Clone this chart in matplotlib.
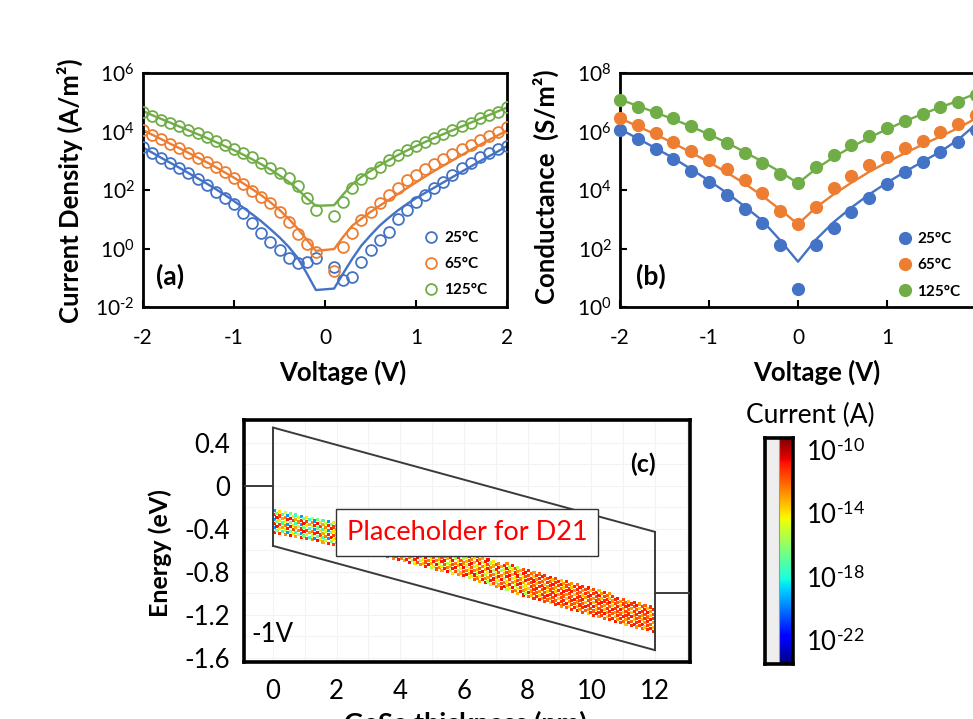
import numpy as np
import matplotlib
matplotlib.use('Agg')
import matplotlib.pyplot as plt
from matplotlib.ticker import NullLocator, FixedLocator, FixedFormatter

plt.rcParams['font.family'] = ['Lato', 'DejaVu Sans']
plt.rcParams['mathtext.fontset'] = 'custom'
plt.rcParams['mathtext.rm'] = 'Lato'
plt.rcParams['mathtext.it'] = 'Lato:italic'
plt.rcParams['mathtext.bf'] = 'Lato:bold'
plt.rcParams['axes.unicode_minus'] = False

# ---------------- data: panel (a) current density (log10 A/m^2) ----------------
V_a = [-2.0, -1.9, -1.8, -1.7, -1.6, -1.5, -1.4, -1.3, -1.2, -1.1,
       -1.0, -0.9, -0.8, -0.7, -0.6, -0.5, -0.4, -0.3, -0.2, -0.1,
       0.1, 0.2, 0.3, 0.4, 0.5, 0.6, 0.7, 0.8, 0.9, 1.0,
       1.1, 1.2, 1.3, 1.4, 1.5, 1.6, 1.7, 1.8, 1.9, 2.0]
logJ_25 = [3.46, 3.28, 3.08, 2.91, 2.74, 2.57, 2.37, 2.17, 1.94, 1.72,
           1.52, 1.20, 0.88, 0.54, 0.23, -0.05, -0.34, -0.49, -0.45, -0.34,
           -0.64, -1.08, -0.99, -0.45, -0.05, 0.29, 0.57, 1.00, 1.32, 1.60,
           1.83, 2.06, 2.28, 2.51, 2.74, 2.93, 3.12, 3.28, 3.39, 3.50]
logJ_65 = [4.05, 3.88, 3.73, 3.58, 3.42, 3.27, 3.11, 2.96, 2.80, 2.61,
           2.40, 2.20, 1.98, 1.76, 1.55, 1.25, 0.90, 0.48, 0.15, -0.12,
           -0.76, 0.06, 0.54, 0.97, 1.26, 1.57, 1.83, 2.06, 2.34, 2.51,
           2.71, 2.89, 3.05, 3.22, 3.39, 3.54, 3.71, 3.85, 3.99, 4.16]
logJ_125 = [4.68, 4.53, 4.39, 4.30, 4.19, 4.05, 3.94, 3.80, 3.69, 3.54,
            3.39, 3.25, 3.12, 2.91, 2.74, 2.57, 2.40, 2.14, 1.72, 1.32,
            1.11, 1.60, 2.06, 2.37, 2.57, 2.80, 3.03, 3.20, 3.37, 3.50,
            3.65, 3.77, 3.91, 4.05, 4.19, 4.30, 4.45, 4.56, 4.68, 4.85]
fitJ_25 = [3.45, 3.28, 3.10, 2.93, 2.76, 2.58, 2.40, 2.22, 2.03, 1.83,
           1.62, 1.40, 1.17, 0.93, 0.66, 0.38, 0.06, -0.32, -0.85, -1.42,
           -1.37, -0.85, -0.35, 0.10, 0.45, 0.78, 1.05, 1.30, 1.52, 1.72,
           1.90, 2.08, 2.26, 2.44, 2.62, 2.80, 2.98, 3.15, 3.32, 3.50]
fitJ_65 = [4.05, 3.89, 3.74, 3.58, 3.43, 3.27, 3.11, 2.95, 2.78, 2.60,
           2.42, 2.23, 2.03, 1.82, 1.58, 1.32, 1.02, 0.68, 0.30, -0.08,
           -0.02, 0.40, 0.78, 1.02, 1.25, 1.46, 1.66, 1.86, 2.06, 2.26,
           2.46, 2.65, 2.83, 3.01, 3.19, 3.37, 3.54, 3.71, 3.87, 4.03]
fitJ_125 = [4.70, 4.56, 4.43, 4.30, 4.17, 4.04, 3.91, 3.78, 3.64, 3.50,
            3.36, 3.21, 3.05, 2.88, 2.70, 2.50, 2.28, 2.02, 1.72, 1.46,
            1.48, 1.85, 2.20, 2.45, 2.65, 2.84, 3.02, 3.19, 3.35, 3.50,
            3.64, 3.78, 3.91, 4.04, 4.17, 4.30, 4.43, 4.56, 4.69, 4.82]

# ---------------- data: panel (b) conductance (log10 S/m^2) ----------------
V_b = [-2.0, -1.8, -1.6, -1.4, -1.2, -1.0, -0.8, -0.6, -0.4, -0.2, 0.0,
       0.2, 0.4, 0.6, 0.8, 1.0, 1.2, 1.4, 1.6, 1.8, 2.0]
logG_25 = [6.05, 5.74, 5.40, 5.06, 4.65, 4.26, 3.83, 3.35, 2.86, 2.12, 0.62,
           2.12, 2.71, 3.26, 3.74, 4.19, 4.63, 4.97, 5.31, 5.65, 6.05]
logG_65 = [6.47, 6.22, 5.94, 5.65, 5.33, 5.03, 4.72, 4.34, 3.89, 3.29, 2.83,
           3.43, 4.08, 4.49, 4.85, 5.14, 5.45, 5.68, 5.99, 6.25, 6.55]
logG_125 = [7.08, 6.85, 6.66, 6.45, 6.19, 5.90, 5.60, 5.28, 4.93, 4.54, 4.23,
            4.80, 5.20, 5.54, 5.85, 6.11, 6.36, 6.59, 6.83, 7.02, 7.25]
fitG_25 = [6.08, 5.76, 5.43, 5.09, 4.71, 4.32, 3.90, 3.44, 2.95, 2.28, 1.55,
           2.30, 2.90, 3.40, 3.85, 4.25, 4.62, 4.97, 5.31, 5.72, 6.25]
fitG_65 = [6.45, 6.18, 5.90, 5.60, 5.28, 4.95, 4.60, 4.22, 3.80, 3.33, 2.83,
           3.40, 3.85, 4.25, 4.62, 4.95, 5.26, 5.55, 5.83, 6.12, 6.45]
fitG_125 = [7.10, 6.87, 6.65, 6.42, 6.17, 5.90, 5.62, 5.30, 4.97, 4.62, 4.23,
            4.72, 5.12, 5.47, 5.79, 6.08, 6.35, 6.60, 6.83, 7.05, 7.30]

temps = ['25°C', '65°C', '125°C']
colors = ['#4472C4', '#ED7D31', '#70AD47']

# ---------------- data: panel (c) band diagram ----------------
edge_x = [0, 12]
cb_E = [0.54, -0.43]
vb_E = [-0.56, -1.53]
fermi_left_E = 0.0
fermi_right_E = -1.0
band_x = [0, 2, 4, 6, 8, 10, 12]
band_top = [-0.22, -0.34, -0.48, -0.62, -0.78, -0.95, -1.14]
band_bot = [-0.43, -0.55, -0.69, -0.84, -1.03, -1.20, -1.36]
# log10 current levels seen in the cloud (left / middle / right parts)
speckle_left = [-11.0, -14.0, -12.5, -16.5, -13.0, -19.5, -11.5, -15.0, -10.8, -17.5]
speckle_mid = [-11.0, -12.5, -14.0, -10.8, -13.2, -11.8, -15.5]
speckle_right = [-10.9, -11.3, -12.0, -12.8, -11.1, -13.5, -11.6]
cbar_ticks = [-22, -18, -14, -10]

W, H = 973, 719
fig = plt.figure(figsize=(W / 100, H / 100), dpi=100)


def box(l, t, r, b):
    return [l / W, 1 - b / H, (r - l) / W, (b - t) / H]


def pow_label(e):
    if e < 0:
        return r'$10^{\text{-}%d}$' % (-e)
    return r'$10^{%d}$' % e


def style_log_axes(ax, lo, hi, step, xlabels):
    ax.set_yscale('log')
    ax.set_ylim(10.0 ** lo, 10.0 ** hi)
    ax.set_xlim(-2, 2)
    exps = list(range(lo, hi + 1, step))
    ax.yaxis.set_major_locator(FixedLocator([10.0 ** e for e in exps]))
    ax.yaxis.set_major_formatter(FixedFormatter([pow_label(e) for e in exps]))
    ax.yaxis.set_minor_locator(NullLocator())
    ax.set_xticks([-2, -1, 0, 1, 2])
    ax.set_xticklabels(xlabels)
    ax.tick_params(axis='both', direction='in', length=5, width=1.5, labelsize=15)
    ax.tick_params(axis='x', pad=15)
    ax.tick_params(axis='y', pad=6)
    for s in ax.spines.values():
        s.set_linewidth(2.0)


leg_kw = dict(loc='upper left', frameon=False, borderpad=0, borderaxespad=0,
              handlelength=0.8, handletextpad=0.45, labelspacing=0.8,
              prop={'weight': 'bold', 'size': 11})

# ---------------- panel (a) ----------------
ax_a = fig.add_axes(box(143, 73, 507, 307))
for logv, fit, c, lab in zip([logJ_25, logJ_65, logJ_125], [fitJ_25, fitJ_65, fitJ_125], colors, temps):
    ax_a.plot(V_a, 10.0 ** np.array(fit), '-', color=c, lw=1.7, zorder=2)
    ax_a.plot(V_a, 10.0 ** np.array(logv), 'o', mfc='none', mec=c, mew=1.3, ms=7.8, label=lab, zorder=3)
style_log_axes(ax_a, -2, 6, 2, ['-2', '-1', '0', '1', '2'])
ax_a.legend(bbox_to_anchor=(0.775, 0.325), **leg_kw)
ax_a.text(0.035, 0.13, '(a)', transform=ax_a.transAxes, fontsize=19, fontweight='bold', va='center')

# ---------------- panel (b) ----------------
ax_b = fig.add_axes(box(620, 73, 976, 307))
for logv, fit, c, lab in zip([logG_25, logG_65, logG_125], [fitG_25, fitG_65, fitG_125], colors, temps):
    ax_b.plot(V_b, 10.0 ** np.array(fit), '-', color=c, lw=1.7, zorder=2)
    ax_b.plot(V_b, 10.0 ** np.array(logv), 'o', color=c, mec=c, ms=8.5, label=lab, zorder=3, clip_on=False)
style_log_axes(ax_b, 0, 8, 2, ['-2', '-1', '0', '1', ''])
ax_b.legend(bbox_to_anchor=(0.782, 0.32), **leg_kw)
ax_b.text(0.045, 0.13, '(b)', transform=ax_b.transAxes, fontsize=19, fontweight='bold', va='center')

fig.text(343 / W, 1 - 372 / H, 'Voltage (V)', ha='center', va='center', fontsize=18.5, fontweight='bold')
fig.text(817 / W, 1 - 372 / H, 'Voltage (V)', ha='center', va='center', fontsize=18.5, fontweight='bold')
fig.text(70 / W, 1 - 191 / H, 'Current Density (A/m²)', rotation=90, ha='center', va='center',
         fontsize=18.5, fontweight='bold')
fig.text(546 / W, 1 - 187 / H, 'Conductance  (S/m²)', rotation=90, ha='center', va='center',
         fontsize=18.5, fontweight='bold')

# ---------------- panel (c) ----------------
ax_c = fig.add_axes(box(244, 420, 690, 662))
XL, XR = -0.91, 13.1
ax_c.set_xlim(XL, XR)
ax_c.set_ylim(-1.64, 0.61)
for gx in range(0, 14):
    ax_c.axvline(gx, color='#f3f3f3', lw=0.8, zorder=0)
for gy in np.arange(-1.6, 0.61, 0.2):
    ax_c.axhline(gy, color='#f3f3f3', lw=0.8, zorder=0)

# speckled current cloud on a staggered lattice inside the read envelope
xs = np.arange(0.04, 12.0, 0.085)
pts_x, pts_y, pts_c = [], [], []
for i, x in enumerate(xs):
    top = np.interp(x, band_x, band_top)
    bot = np.interp(x, band_x, band_bot)
    ys = np.arange(bot + (0.02 if i % 2 else 0.0), top, 0.04)
    pal = speckle_left if x < 4 else (speckle_mid if x < 8 else speckle_right)
    for j, y in enumerate(ys):
        pts_x.append(x)
        pts_y.append(y)
        pts_c.append(pal[(3 * i + 5 * j) % len(pal)])
ax_c.scatter(pts_x, pts_y, c=pts_c, cmap='jet', vmin=-23.5, vmax=-9.25, s=5, marker='s',
             linewidths=0, zorder=2)

line_kw = dict(color='#3a3a3a', lw=1.4, zorder=3)
ax_c.plot(edge_x, cb_E, **line_kw)
ax_c.plot(edge_x, vb_E, **line_kw)
ax_c.plot([edge_x[0], edge_x[0]], [vb_E[0], cb_E[0]], **line_kw)
ax_c.plot([edge_x[1], edge_x[1]], [vb_E[1], cb_E[1]], **line_kw)
ax_c.plot([XL, edge_x[0]], [fermi_left_E, fermi_left_E], **line_kw)
ax_c.plot([edge_x[1], XR], [fermi_right_E, fermi_right_E], **line_kw)

ax_c.set_xticks(range(0, 13, 2))
ax_c.set_yticks([0.4, 0, -0.4, -0.8, -1.2, -1.6])
ax_c.set_yticklabels(['0.4', '0', '-0.4', '-0.8', '-1.2', '-1.6'])
ax_c.tick_params(axis='both', length=0, labelsize=18.5)
ax_c.tick_params(axis='x', pad=12)
ax_c.tick_params(axis='y', pad=10)
for s in ax_c.spines.values():
    s.set_linewidth(2.6)
ax_c.text(11.62, 0.195, '(c)', fontsize=18, fontweight='bold', ha='center', va='center', zorder=5)
ax_c.text(-0.03, -1.386, '-1V', fontsize=18.5, ha='center', va='center', zorder=5)
ax_c.text(6.1, -0.437, 'Placeholder for D21', color='#ff0000', fontsize=19.5, ha='center', va='center',
          zorder=6, bbox=dict(boxstyle='square,pad=0.4', fc='white', ec='#333333', lw=1.0))

fig.text(160 / W, 1 - 553 / H, 'Energy (eV)', rotation=90, ha='center', va='center',
         fontsize=18, fontweight='bold')
fig.text(465 / W, 1 - 732 / H, 'GeSe thickness (nm)', ha='center', va='baseline',
         fontsize=19.5, fontweight='bold')

# ---------------- colour bar ----------------
ax_cb = fig.add_axes(box(765, 438, 793, 664))
lo, hi = -23.5, -9.25
grad = np.linspace(lo, hi, 256).reshape(-1, 1)
ax_cb.set_xlim(0, 1)
ax_cb.set_ylim(lo, hi)
ax_cb.axvspan(0, 0.5, color='#eeeeee', zorder=0)
ax_cb.imshow(grad, cmap='jet', origin='lower', extent=[0.5, 1.0, lo, hi], aspect='auto', zorder=1)
ax_cb.axvline(0.5, color='#9a9a9a', lw=0.8, zorder=2)
ax_cb.set_xticks([])
ax_cb.yaxis.tick_right()
ax_cb.set_yticks(cbar_ticks)
ax_cb.set_yticklabels([pow_label(t) for t in cbar_ticks])
ax_cb.tick_params(axis='y', length=0, labelsize=18.5, pad=9)
for s in ax_cb.spines.values():
    s.set_linewidth(2.6)
fig.text(810 / W, 1 - 415 / H, 'Current (A)', ha='center', va='center', fontsize=19)

fig.savefig('out.png', dpi=100)
